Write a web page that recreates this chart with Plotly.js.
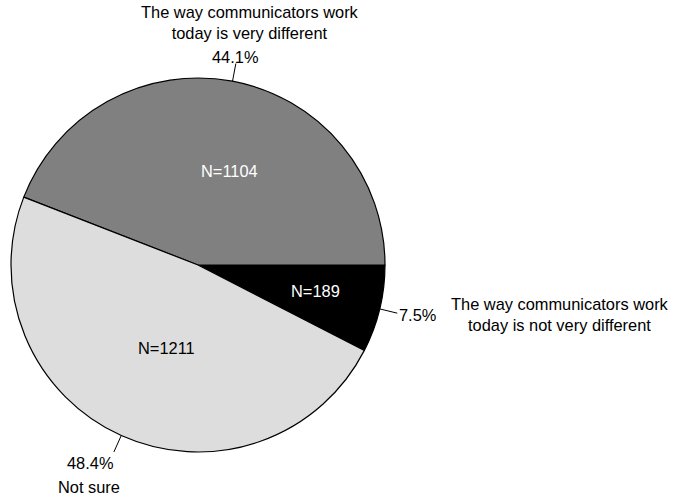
<!DOCTYPE html>
<html>
<head>
<meta charset="utf-8">
<script src="https://cdn.plot.ly/plotly-3.0.1.min.js"></script>
<style>
  html, body { margin: 0; padding: 0; background: #ffffff; }
  #chart { width: 676px; height: 497px; }
</style>
</head>
<body>
<div id="chart"></div>
<script>
// ---- Data ----
var categories = [
  "The way communicators work<br>today is not very different",
  "The way communicators work<br>today is very different",
  "Not sure"
];
var counts = [189, 1104, 1211];
var sliceColors = ["#000000", "#808080", "#dddddd"];
var innerTextColors = ["#ffffff", "#ffffff", "#000000"];

// ---- Layout geometry (pixels) ----
var W = 676, H = 497;
var cx = 198, cy = 265, R = 187;
var FONT = "Liberation Sans, Arial, sans-serif";
var FS = 16.4;

function px2x(px) { return px / W; }
function py2y(py) { return 1 - py / H; }

// positions of text (pixels) for each slice
var innerPos   = [[315, 291], [229.5, 171], [166, 348]];
var pctPos     = [[417, 315], [235, 57], [90, 463]];
var catPos     = [[560, 314], [250, 23], [89, 487]];
var leaderLen  = 18;

// ---- Slice angles (math degrees, CCW from 3 o'clock) consistent with rotation 90, counterclockwise ----
var total = counts.reduce(function (a, b) { return a + b; }, 0);
var spans = counts.map(function (v) { return v / total * 360; });
var mids = [];
mids.push(-spans[0] / 2);
var acc = 0;
for (var i = 1; i < counts.length; i++) {
  mids.push(acc + spans[i] / 2);
  acc += spans[i];
}

var annotations = [];
var shapes = [];
for (var k = 0; k < counts.length; k++) {
  var pct = (counts[k] / total * 100).toFixed(1) + "%";
  var a = mids[k] * Math.PI / 180;
  var x0 = cx + R * Math.cos(a), y0 = cy - R * Math.sin(a);
  var x1 = cx + (R + leaderLen) * Math.cos(a), y1 = cy - (R + leaderLen) * Math.sin(a);
  shapes.push({
    type: "line", xref: "paper", yref: "paper",
    x0: px2x(x0), y0: py2y(y0), x1: px2x(x1), y1: py2y(y1),
    line: { color: "#000000", width: 1 }
  });
  annotations.push({
    xref: "paper", yref: "paper", showarrow: false,
    x: px2x(innerPos[k][0]), y: py2y(innerPos[k][1]),
    xanchor: "center", yanchor: "middle",
    text: "N=" + counts[k],
    font: { family: FONT, size: FS, color: innerTextColors[k] }
  });
  annotations.push({
    xref: "paper", yref: "paper", showarrow: false,
    x: px2x(pctPos[k][0]), y: py2y(pctPos[k][1]),
    xanchor: "center", yanchor: "middle",
    text: pct,
    font: { family: FONT, size: FS, color: "#000000" }
  });
  annotations.push({
    xref: "paper", yref: "paper", showarrow: false,
    x: px2x(catPos[k][0]), y: py2y(catPos[k][1]),
    xanchor: "center", yanchor: "middle",
    text: categories[k],
    font: { family: FONT, size: FS, color: "#000000" }
  });
}

var trace = {
  type: "pie",
  labels: categories,
  values: counts,
  sort: false,
  direction: "counterclockwise",
  rotation: 90,
  textinfo: "none",
  hoverinfo: "label+value+percent",
  marker: { colors: sliceColors, line: { color: "#000000", width: 1.2 } },
  domain: { x: [px2x(cx - R), px2x(cx + R)], y: [py2y(cy + R), py2y(cy - R)] },
  showlegend: false
};

var layout = {
  width: W, height: H,
  margin: { l: 0, r: 0, t: 0, b: 0, pad: 0 },
  paper_bgcolor: "#ffffff",
  plot_bgcolor: "#ffffff",
  font: { family: FONT, size: FS, color: "#000000" },
  showlegend: false,
  annotations: annotations,
  shapes: shapes
};

Plotly.newPlot("chart", [trace], layout, { displayModeBar: false, staticPlot: true });
</script>
</body>
</html>
